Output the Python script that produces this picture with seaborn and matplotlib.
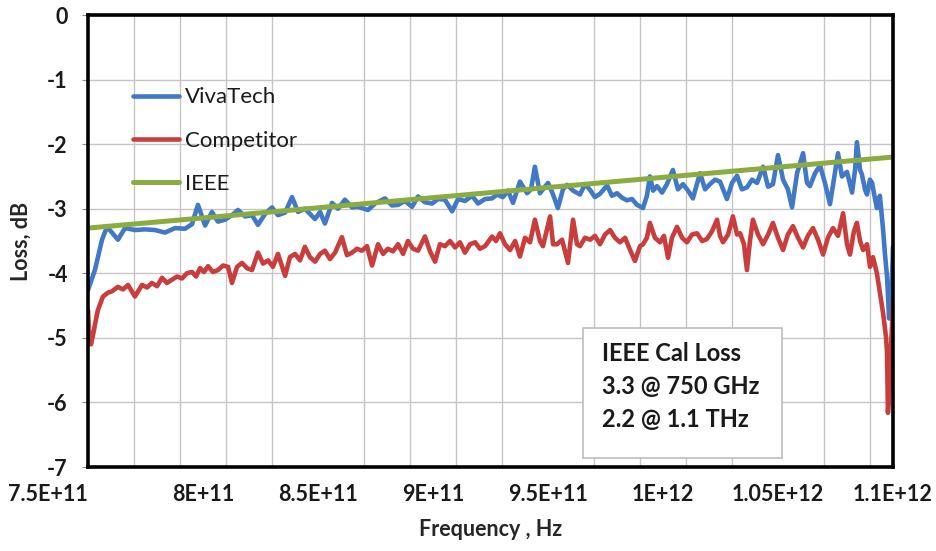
import numpy as np
import pandas as pd
import matplotlib
matplotlib.use("Agg")
import matplotlib.pyplot as plt
from matplotlib.patches import Rectangle
import seaborn as sns

# Measured insertion loss, frequency in GHz, loss in dB
vivatech_ghz = [
    750.0, 753.0, 756.1, 758.3, 760.4, 763.0, 766.1, 770.4, 774.8, 779.1,
    783.5, 787.8, 792.2, 795.2, 797.8, 800.9, 803.9, 806.5, 809.6, 812.6,
    815.2, 818.3, 821.3, 823.9, 827.0, 830.0, 832.6, 835.7, 838.7, 841.3,
    844.3, 848.7, 850.9, 853.0, 856.1, 858.7, 861.7, 864.8, 867.4, 871.7,
    874.8, 879.1, 882.2, 884.8, 887.8, 890.9, 893.5, 896.5, 899.6, 902.2,
    905.2, 908.3, 910.9, 913.9, 917.0, 919.6, 922.6, 925.7, 927.8, 930.4,
    932.6, 934.8, 937.8, 940.9, 942.6, 944.3, 946.5, 950.0, 952.2, 954.3,
    956.5, 958.3, 960.9, 963.9, 966.1, 968.3, 970.4, 972.6, 975.7, 977.8,
    980.0, 982.2, 984.3, 986.5, 988.7, 991.3, 993.0, 994.3, 995.7, 997.4,
    999.6, 1001.7, 1004.3, 1006.5, 1008.7, 1010.9, 1013.0, 1016.1, 1018.3, 1020.4,
    1022.6, 1024.8, 1027.8, 1030.0, 1032.2, 1034.3, 1036.5, 1038.7, 1040.9, 1043.5,
    1045.7, 1047.8, 1050.0, 1052.2, 1054.3, 1056.1, 1058.3, 1060.9, 1062.6, 1063.9,
    1066.1, 1068.3, 1070.4, 1072.6, 1074.3, 1076.1, 1077.8, 1080.0, 1082.2, 1083.5,
    1084.3, 1085.7, 1086.5, 1087.8, 1088.7, 1090.0, 1090.9, 1092.2, 1093.0, 1094.3,
    1095.7, 1096.5, 1097.4, 1098.3, 1098.7, 1099.1, 1100.0,
]
vivatech_db = [
    -4.26, -3.95, -3.48, -3.28, -3.37, -3.48, -3.30, -3.33, -3.32, -3.33,
    -3.37, -3.30, -3.31, -3.24, -2.94, -3.26, -3.05, -3.20, -3.17, -3.10,
    -3.02, -3.12, -3.10, -3.25, -3.08, -2.98, -3.10, -3.06, -2.82, -3.05,
    -3.00, -3.16, -3.05, -3.23, -2.91, -3.00, -2.86, -2.98, -2.97, -3.02,
    -2.92, -2.84, -2.95, -2.94, -2.88, -2.97, -2.81, -2.90, -2.92, -2.85,
    -2.86, -3.04, -2.85, -2.88, -2.80, -2.92, -2.85, -2.84, -2.78, -2.82,
    -2.72, -2.91, -2.58, -2.76, -2.70, -2.35, -2.76, -2.60, -2.78, -2.99,
    -2.70, -2.63, -2.72, -2.78, -2.62, -2.71, -2.82, -2.77, -2.64, -2.80,
    -2.76, -2.83, -2.87, -2.85, -2.94, -2.99, -2.80, -2.50, -2.72, -2.65,
    -2.75, -2.62, -2.40, -2.70, -2.62, -2.72, -2.84, -2.45, -2.70, -2.62,
    -2.55, -2.58, -2.85, -2.60, -2.49, -2.70, -2.67, -2.55, -2.60, -2.35,
    -2.66, -2.62, -2.17, -2.55, -2.70, -2.98, -2.45, -2.14, -2.60, -2.65,
    -2.45, -2.33, -2.60, -2.93, -2.55, -2.14, -2.50, -2.43, -2.75, -2.40,
    -1.97, -2.40, -2.47, -2.70, -2.78, -2.55, -2.60, -2.85, -2.99, -2.80,
    -3.33, -3.70, -4.05, -4.70, -4.40, -4.60, -3.59,
]

competitor_ghz = [
    750.0, 750.4, 751.3, 752.2, 753.0, 754.3, 756.5, 758.7, 760.4, 763.0,
    765.2, 767.4, 770.4, 773.5, 775.7, 777.8, 780.0, 782.2, 784.3, 786.5,
    788.7, 790.9, 793.0, 795.2, 797.0, 798.7, 800.4, 802.2, 804.3, 806.5,
    808.7, 810.9, 812.6, 814.8, 817.0, 819.1, 821.3, 823.9, 826.1, 828.3,
    830.4, 832.6, 835.7, 837.8, 840.0, 842.2, 844.3, 846.5, 848.7, 850.9,
    853.0, 855.2, 857.4, 860.4, 862.6, 864.8, 867.0, 869.1, 871.3, 873.5,
    876.1, 878.3, 880.4, 882.6, 884.8, 887.0, 889.1, 891.3, 893.5, 896.5,
    898.7, 900.9, 903.0, 905.2, 907.4, 909.6, 911.7, 913.9, 916.1, 918.3,
    920.4, 922.6, 925.7, 927.4, 929.1, 931.3, 933.5, 935.7, 937.8, 940.0,
    942.2, 944.3, 946.5, 947.8, 950.9, 952.2, 953.9, 956.1, 958.7, 960.9,
    962.6, 963.9, 966.1, 968.3, 970.4, 972.6, 974.8, 977.0, 979.1, 981.3,
    983.5, 985.7, 987.8, 990.0, 991.3, 993.0, 994.3, 996.5, 998.7, 1000.4,
    1002.2, 1003.9, 1006.1, 1008.3, 1010.4, 1012.6, 1014.8, 1017.0, 1019.1, 1021.3,
    1023.5, 1024.8, 1026.1, 1028.3, 1030.4, 1032.2, 1033.5, 1035.2, 1036.5, 1037.8,
    1039.1, 1041.3, 1043.5, 1045.7, 1047.8, 1050.0, 1052.2, 1054.3, 1056.5, 1058.7,
    1060.9, 1063.0, 1065.2, 1067.4, 1069.6, 1071.7, 1073.9, 1076.1, 1078.3, 1080.0,
    1081.3, 1083.0, 1084.3, 1085.7, 1087.0, 1088.7, 1090.0, 1091.3, 1093.0, 1094.3,
    1095.7, 1097.0, 1097.4, 1097.8, 1098.3, 1098.7, 1099.6, 1100.0,
]
competitor_db = [
    -4.57, -4.88, -5.10, -4.95, -4.80, -4.57, -4.36, -4.30, -4.28, -4.21,
    -4.25, -4.18, -4.36, -4.18, -4.22, -4.15, -4.20, -4.07, -4.15, -4.10,
    -4.05, -4.08, -4.00, -3.98, -4.05, -3.92, -3.98, -3.89, -3.98, -3.95,
    -3.88, -3.90, -4.15, -3.90, -3.84, -3.92, -3.95, -3.68, -3.85, -3.80,
    -3.90, -3.70, -4.04, -3.75, -3.70, -3.80, -3.59, -3.75, -3.82, -3.70,
    -3.65, -3.78, -3.68, -3.44, -3.72, -3.68, -3.62, -3.65, -3.58, -3.88,
    -3.55, -3.70, -3.62, -3.66, -3.55, -3.70, -3.50, -3.62, -3.65, -3.43,
    -3.66, -3.82, -3.55, -3.58, -3.50, -3.60, -3.52, -3.68, -3.55, -3.52,
    -3.62, -3.58, -3.43, -3.50, -3.38, -3.55, -3.64, -3.50, -3.74, -3.45,
    -3.52, -3.17, -3.50, -3.58, -3.12, -3.55, -3.55, -3.48, -3.84, -3.17,
    -3.55, -3.58, -3.45, -3.48, -3.42, -3.55, -3.40, -3.33, -3.45, -3.52,
    -3.45, -3.64, -3.81, -3.58, -3.55, -3.45, -3.22, -3.45, -3.52, -3.42,
    -3.76, -3.45, -3.28, -3.45, -3.52, -3.40, -3.38, -3.50, -3.47, -3.35,
    -3.17, -3.42, -3.52, -3.40, -3.12, -3.40, -3.38, -3.55, -3.95, -3.50,
    -3.17, -3.40, -3.55, -3.40, -3.22, -3.45, -3.64, -3.40, -3.27, -3.45,
    -3.60, -3.42, -3.30, -3.48, -3.71, -3.45, -3.30, -3.42, -3.07, -3.55,
    -3.71, -3.35, -3.22, -3.50, -3.64, -3.55, -3.90, -3.75, -4.00, -4.30,
    -4.62, -5.00, -5.23, -6.16, -5.90, -5.50, -4.80, -4.41,
]

# IEEE calibration loss reference: 3.3 dB @ 750 GHz, 2.2 dB @ 1.1 THz
ieee_ghz = [750.0, 1100.0]
ieee_db = [-3.3, -2.2]

series_names = ["VivaTech", "Competitor", "IEEE"]
series_colors = ["#4279c6", "#c93d3d", "#8bad3f"]

x_tick_ghz = [750, 800, 850, 900, 950, 1000, 1050, 1100]
x_grid_ghz = [770, 790, 810, 830, 850, 870, 890, 910, 930, 950,
              970, 990, 1010, 1030, 1050, 1070, 1090]
y_ticks_db = [0, -1, -2, -3, -4, -5, -6, -7]

note_lines = ["IEEE Cal Loss", "3.3 @ 750 GHz", "2.2 @ 1.1 THz"]

sns.set_style("white")
plt.rcParams["font.family"] = ["Lato", "DejaVu Sans"]
plt.rcParams["text.color"] = "#1a1a1a"

frames = []
for name, f, d in zip(series_names,
                      [vivatech_ghz, competitor_ghz, ieee_ghz],
                      [vivatech_db, competitor_db, ieee_db]):
    frames.append(pd.DataFrame({"Frequency": np.asarray(f) * 1e9,
                                "Loss": d, "Series": name}))
df = pd.concat(frames, ignore_index=True)

fig = plt.figure(figsize=(9.37, 5.51), dpi=100)
fig.patch.set_facecolor("white")
ax = fig.add_axes([88 / 937, 1 - 467 / 551, 805 / 937, 452 / 551])

sns.lineplot(data=df, x="Frequency", y="Loss", hue="Series",
             hue_order=series_names, palette=dict(zip(series_names, series_colors)),
             estimator=None, sort=False, linewidth=3.3, legend=False, ax=ax)
for ln in ax.lines[:3]:
    ln.set_solid_joinstyle("round")
ax.lines[2].set_linewidth(3.6)

ax.set_xlim(750e9, 1100e9)
ax.set_ylim(-7, 0)

# Ticks and grid
x_ticks = [v * 1e9 for v in x_tick_ghz]
ax.set_xticks(x_ticks, labels=[f"{v:.3G}" for v in x_ticks],
              fontsize=15.5, fontweight="bold")
ax.set_xticks([v * 1e9 for v in x_grid_ghz], minor=True)
first = ax.get_xticklabels()[0]
first.set_horizontalalignment("right")
ax.set_yticks(y_ticks_db, labels=[str(v) for v in y_ticks_db],
              fontsize=15.5, fontweight="bold")

ax.grid(False)
ax.grid(axis="y", which="major", color="#c6c6c6", linewidth=1.0)
ax.grid(axis="x", which="minor", color="#c6c6c6", linewidth=1.0)
ax.set_axisbelow(True)
ax.tick_params(axis="x", which="both", length=0, pad=12, colors="#1a1a1a")
ax.tick_params(axis="y", which="major", left=True, length=4.5, width=0.8,
               color="#8a8a8a", pad=10, labelcolor="#1a1a1a")

for s in ax.spines.values():
    s.set_visible(True)
    s.set_color("black")
    s.set_linewidth(2.6)

ax.set_xlabel("Frequency , Hz", fontsize=15.5, fontweight="bold")
ax.xaxis.set_label_coords(0.5, -0.139)
ax.xaxis.label.set_verticalalignment("center")
ax.set_ylabel("Loss, dB", fontsize=15.5, fontweight="bold")
ax.yaxis.set_label_coords(-0.083, 0.5)
ax.yaxis.label.set_verticalalignment("center")

ax.legend(ax.lines[:3], series_names, loc="upper left",
          bbox_to_anchor=(0.056, 0.84), frameon=False, fontsize=16,
          handlelength=2.05, handletextpad=0.3, labelspacing=1.05,
          borderpad=0, borderaxespad=0)

# Annotation box with the calibration figures
ax.add_patch(Rectangle((0.615, 0.020), 0.247, 0.2875, transform=ax.transAxes,
                       facecolor="white", edgecolor="#bdbdbd", linewidth=1.2,
                       zorder=4))
for i, line in enumerate(note_lines):
    ax.text(0.6385, 0.252 - i * 0.0735, line, transform=ax.transAxes,
            fontsize=17, fontweight="bold", ha="left", va="center", zorder=5)

fig.savefig("out.png", dpi=100, facecolor="white")
